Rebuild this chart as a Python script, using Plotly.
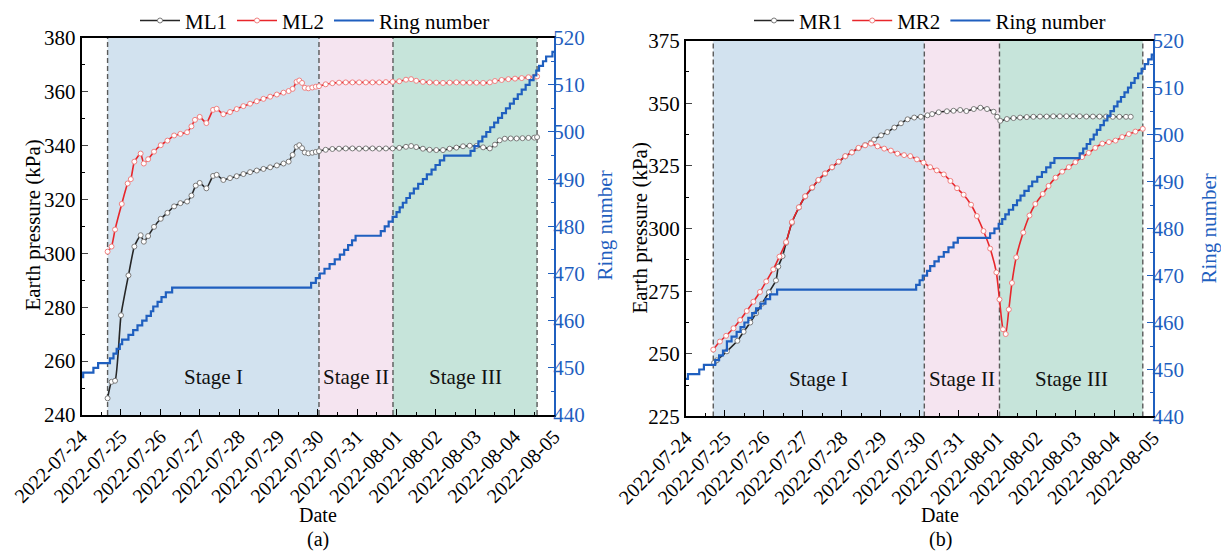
import pandas as pd
import plotly.graph_objects as go
from plotly.subplots import make_subplots

# ---------------- data (time in days from 2022-07-24 00:00) ----------------
ml1_t = [0.66, 0.76, 0.85, 1.00, 1.19, 1.34, 1.50, 1.58, 1.69, 1.84, 2.01, 2.18, 2.35, 2.51, 2.68, 2.79,
         2.90, 3.00, 3.17, 3.34, 3.43, 3.60, 3.77, 3.94, 4.11, 4.28, 4.45, 4.62, 4.79, 4.96, 5.13, 5.26,
         5.36, 5.46, 5.53, 5.60, 5.67, 5.76, 5.86, 5.95, 6.03, 6.20, 6.37, 6.54, 6.71, 6.88, 7.05, 7.22,
         7.39, 7.56, 7.73, 7.90, 8.07, 8.24, 8.37, 8.50, 8.67, 8.84, 9.01, 9.18, 9.35, 9.52, 9.69, 9.86,
         10.03, 10.20, 10.37, 10.50, 10.62, 10.75, 10.90, 11.05, 11.20, 11.35, 11.50, 11.57]
ml1_v = [246.2, 252.3, 252.7, 277.0, 291.8, 302.5, 306.7, 304.3, 306.4, 309.8, 312.8, 315.0, 317.4, 318.6, 319.2, 321.4,
         325.1, 326.1, 324.1, 328.7, 329.1, 327.2, 327.9, 328.6, 329.4, 330.1, 330.7, 331.3, 331.9, 332.6, 333.3, 334.0,
         336.5, 339.5, 340.1, 339.0, 337.4, 337.1, 337.3, 337.6, 337.9, 338.4, 338.7, 338.8, 338.9, 338.9, 338.8, 338.9,
         338.9, 338.8, 338.9, 338.9, 339.1, 339.5, 339.8, 339.4, 338.8, 338.4, 338.3, 338.3, 338.8, 339.2, 339.7, 339.9,
         339.8, 339.3, 338.9, 340.3, 341.9, 342.5, 342.6, 342.6, 342.7, 342.8, 342.9, 343.1]

ml2_t = [0.66, 0.76, 0.85, 1.02, 1.17, 1.25, 1.34, 1.50, 1.58, 1.69, 1.84, 2.01, 2.18, 2.35, 2.51, 2.68,
         2.79, 2.88, 3.00, 3.17, 3.34, 3.43, 3.60, 3.77, 3.94, 4.11, 4.28, 4.45, 4.62, 4.79, 4.96, 5.13,
         5.26, 5.36, 5.46, 5.53, 5.60, 5.67, 5.76, 5.86, 5.95, 6.03, 6.20, 6.37, 6.54, 6.71, 6.88, 7.05,
         7.22, 7.39, 7.56, 7.73, 7.90, 8.07, 8.24, 8.37, 8.50, 8.67, 8.84, 9.01, 9.18, 9.35, 9.52, 9.69,
         9.86, 10.03, 10.20, 10.37, 10.50, 10.67, 10.84, 11.01, 11.18, 11.35, 11.50, 11.57]
ml2_v = [300.6, 302.5, 308.8, 318.3, 325.9, 327.5, 334.0, 337.0, 333.3, 334.9, 337.7, 340.1, 341.8, 343.7, 344.3, 344.9,
         347.1, 349.5, 350.6, 348.3, 353.2, 353.6, 351.6, 352.4, 353.5, 354.6, 355.5, 356.4, 357.3, 358.1, 358.9, 359.6,
         360.2, 361.0, 363.6, 364.1, 363.2, 361.4, 361.2, 361.5, 361.8, 362.0, 362.7, 363.1, 363.3, 363.4, 363.4, 363.4,
         363.4, 363.4, 363.4, 363.5, 363.6, 363.8, 364.4, 364.6, 364.0, 363.6, 363.4, 363.3, 363.2, 363.3, 363.4, 363.3,
         363.3, 363.3, 363.2, 363.4, 363.9, 364.3, 364.6, 364.8, 365.0, 365.3, 365.5, 365.6]

ringL_t = [0.00, 0.04, 0.30, 0.42, 0.72, 0.81, 0.89, 0.97, 1.03, 1.19, 1.31, 1.42, 1.54, 1.65, 1.76, 1.82,
           1.93, 2.03, 2.14, 2.30, 5.83, 5.95, 6.05, 6.17, 6.30, 6.43, 6.56, 6.67, 6.77, 6.87, 6.96, 7.60,
           7.70, 7.80, 7.90, 8.00, 8.08, 8.16, 8.25, 8.34, 8.44, 8.55, 8.67, 8.77, 8.89, 8.99, 9.10, 9.21,
           9.88, 9.98, 10.08, 10.18, 10.28, 10.38, 10.48, 10.58, 10.68, 10.78, 10.88, 10.98, 11.08, 11.18,
           11.28, 11.38, 11.48, 11.55, 11.62, 11.72, 11.80, 11.96, 12.00]
ringL_v = [448, 449, 450, 451, 452, 453, 454, 455, 456, 457, 458, 459, 460, 461, 462, 463,
           464, 465, 466, 467, 468, 469, 470, 471, 472, 473, 474, 475, 476, 477, 478, 479,
           480, 481, 482, 483, 484, 485, 486, 487, 488, 489, 490, 491, 492, 493, 494, 495,
           496, 497, 498, 499, 500, 501, 502, 503, 504, 505, 506, 507, 508, 509,
           510, 511, 512, 513, 514, 515, 516, 517, 517]

mr1_t = [0.72, 0.79, 1.05, 1.32, 1.48, 1.65, 1.80, 1.95, 2.13, 2.31, 2.37, 2.48, 2.57, 2.72, 2.90, 3.06,
         3.24, 3.40, 3.57, 3.75, 3.92, 4.09, 4.26, 4.43, 4.60, 4.75, 4.83, 5.01, 5.17, 5.35, 5.52, 5.69,
         5.86, 6.03, 6.20, 6.32, 6.49, 6.70, 6.87, 7.04, 7.20, 7.39, 7.56, 7.73, 7.90, 7.99, 8.07, 8.24,
         8.41, 8.58, 8.75, 8.92, 9.09, 9.26, 9.43, 9.60, 9.77, 9.94, 10.11, 10.28, 10.45, 10.62, 10.79,
         10.96, 11.13, 11.30, 11.42]
mr1_v = [246.4, 247.4, 251.0, 255.2, 258.8, 262.5, 266.2, 270.0, 274.6, 279.3, 284.8, 289.0, 294.3, 302.3, 308.4, 312.8,
         316.3, 319.3, 321.9, 324.4, 326.6, 328.8, 330.4, 332.1, 333.3, 334.3, 335.5, 337.2, 338.5, 340.3, 342.0, 343.6,
         344.3, 344.6, 345.2, 345.7, 346.4, 346.8, 347.0, 347.3, 346.9, 347.7, 348.2, 347.7, 346.6, 344.6, 343.0, 343.7,
         344.1, 344.3, 344.5, 344.6, 344.7, 344.7, 344.8, 344.8, 344.8, 344.8, 344.8, 344.7, 344.7, 344.7, 344.7,
         344.6, 344.6, 344.6, 344.6]

mr2_t = [0.70, 0.87, 1.03, 1.22, 1.39, 1.56, 1.73, 1.90, 2.06, 2.24, 2.40, 2.57, 2.72, 2.90, 3.06, 3.24,
         3.40, 3.57, 3.75, 3.92, 4.09, 4.26, 4.43, 4.60, 4.75, 4.92, 5.09, 5.26, 5.43, 5.60, 5.76, 5.93,
         6.10, 6.27, 6.44, 6.62, 6.79, 6.96, 7.13, 7.32, 7.47, 7.64, 7.81, 7.97, 8.05, 8.14, 8.21, 8.29,
         8.37, 8.48, 8.66, 8.82, 8.97, 9.16, 9.31, 9.49, 9.66, 9.83, 10.00, 10.17, 10.34, 10.51, 10.69,
         10.86, 11.03, 11.20, 11.37, 11.54, 11.73]
mr2_v = [251.7, 254.9, 257.2, 260.2, 263.5, 267.1, 270.8, 274.7, 278.9, 283.7, 288.8, 294.6, 302.6, 308.5, 312.9, 316.4,
         319.4, 322.0, 324.5, 326.7, 328.9, 330.4, 332.2, 333.2, 333.9, 332.8, 331.9, 331.1, 329.9, 329.3, 328.9, 327.6,
         326.3, 324.5, 323.2, 321.6, 319.0, 316.1, 313.5, 309.5, 305.0, 299.0, 292.0, 282.5, 271.7, 259.8, 257.9, 267.7,
         278.3, 288.5, 298.4, 305.2, 309.8, 313.8, 317.0, 320.3, 322.7, 324.5, 326.5, 328.5, 330.2, 332.2, 333.9,
         334.5, 335.1, 336.5, 337.7, 338.7, 339.8]

ringR_t = [0.00, 0.05, 0.34, 0.46, 0.75, 0.85, 0.95, 1.05, 1.17, 1.30, 1.40, 1.50, 1.60, 1.70, 1.80, 1.92,
           2.04, 2.16, 2.34, 5.91, 6.00, 6.08, 6.19, 6.27, 6.38, 6.49, 6.62, 6.74, 6.87, 6.98, 7.81, 7.92,
           8.03, 8.12, 8.20, 8.29, 8.40, 8.50, 8.59, 8.69, 8.80, 8.89, 9.02, 9.14, 9.25, 9.36, 9.46,
           10.11, 10.20, 10.29, 10.38, 10.47, 10.55, 10.64, 10.73, 10.82, 10.90, 10.99, 11.08, 11.17, 11.26,
           11.35, 11.43, 11.52, 11.61, 11.70, 11.78, 11.87, 11.96, 12.00]
ringR_v = [448, 449, 450, 451, 452, 453, 454, 456, 457, 458, 459, 460, 461, 462, 463, 464,
           465, 466, 467, 468, 469, 470, 471, 472, 473, 474, 475, 476, 477, 478, 479, 480,
           481, 482, 483, 484, 485, 486, 487, 488, 489, 490, 491, 492, 493, 494, 495,
           496, 497, 498, 499, 500, 501, 502, 503, 504, 505, 506, 507, 508, 509,
           510, 511, 512, 513, 514, 515, 516, 517, 517]

stagesL = [0.66, 6.03, 7.91, 11.57]   # stage boundaries, left panel
stagesR = [0.70, 6.12, 8.05, 11.73]   # stage boundaries, right panel
stage_names = ["Stage I", "Stage II", "Stage III"]
stage_colors = ["rgb(210,226,239)", "rgb(245,228,240)", "rgb(198,228,218)"]

BASE = pd.Timestamp("2022-07-24")


def T(days):
    return [BASE + pd.Timedelta(days=d) for d in days]


FONT = "Times New Roman, Liberation Serif, serif"
BLACK = "#262626"
RED = "#e8262b"
BLUE = "#1f5fbf"

fig = make_subplots(rows=1, cols=2, specs=[[{"secondary_y": True}, {"secondary_y": True}]])


def add_panel(col, t1, v1, n1, t2, v2, n2, rt, rv, legend):
    fig.add_trace(go.Scatter(x=T(t1), y=v1, name=n1, mode="lines+markers", legend=legend,
                             line=dict(color=BLACK, width=1.6, shape="spline", smoothing=0.5),
                             marker=dict(symbol="circle", size=5, color="white",
                                         line=dict(color="#7a7a7a", width=1))),
                  row=1, col=col, secondary_y=False)
    fig.add_trace(go.Scatter(x=T(t2), y=v2, name=n2, mode="lines+markers", legend=legend,
                             line=dict(color=RED, width=1.6, shape="spline", smoothing=0.5),
                             marker=dict(symbol="circle", size=5, color="white",
                                         line=dict(color="#f08080", width=1))),
                  row=1, col=col, secondary_y=False)
    fig.add_trace(go.Scatter(x=T(rt), y=rv, name="Ring number", mode="lines", legend=legend,
                             line=dict(color=BLUE, width=2.2, shape="hv")),
                  row=1, col=col, secondary_y=True)


add_panel(1, ml1_t, ml1_v, "ML1", ml2_t, ml2_v, "ML2", ringL_t, ringL_v, "legend")
add_panel(2, mr1_t, mr1_v, "MR1", mr2_t, mr2_v, "MR2", ringR_t, ringR_v, "legend2")

W, H = 1221, 551
domL = [81.6 / W, 554 / W]
domR = [686 / W, 1153.3 / W]
ydomL = [1 - 413.5 / H, 1 - 32 / H]
ydomR = [1 - 415 / H, 1 - 35 / H]

xcommon = dict(type="date", range=[BASE, BASE + pd.Timedelta(days=12)], tickformat="%Y-%m-%d",
               dtick=86400000, tick0=BASE, tickangle=-45, ticks="inside", ticklen=6, tickwidth=1.3,
               tickcolor="black", showline=True, linecolor="black", linewidth=2, mirror=True,
               showgrid=False, zeroline=False, tickfont=dict(family=FONT, size=20, color="black"),
               minor=dict(dtick=43200000, ticks="inside", ticklen=3, tickcolor="black", showgrid=False),
               automargin=False)
ring_common = dict(range=[440, 520], dtick=10, ticks="inside", ticklen=6, tickwidth=1.3, tickcolor=BLUE,
                   showline=True, linecolor=BLUE, linewidth=2, showgrid=False, zeroline=False,
                   tickfont=dict(family=FONT, size=21, color=BLUE), ticklabelstandoff=-7,
                   minor=dict(dtick=5, ticks="inside", ticklen=3, tickcolor=BLUE), automargin=False)
fig.update_layout(
    xaxis=dict(domain=domL, **xcommon),
    xaxis2=dict(domain=domR, **xcommon),
    yaxis=dict(domain=ydomL, range=[240, 380], dtick=20, ticks="inside", ticklen=6, tickwidth=1.3,
               showline=True, linecolor="black", linewidth=2, showgrid=False, zeroline=False,
               tickfont=dict(family=FONT, size=21, color="black"),
               minor=dict(dtick=10, ticks="inside", ticklen=3, tickcolor="black"), automargin=False),
    yaxis2=dict(**ring_common),
    yaxis3=dict(domain=ydomR, range=[225, 375], dtick=25, ticks="inside", ticklen=6, tickwidth=1.3,
                showline=True, linecolor="black", linewidth=2, showgrid=False, zeroline=False,
                tickfont=dict(family=FONT, size=21, color="black"),
                minor=dict(dtick=12.5, ticks="inside", ticklen=3, tickcolor="black"), automargin=False),
    yaxis4=dict(**ring_common),
)
fig.layout.yaxis2.domain = ydomL
fig.layout.yaxis4.domain = ydomR

# stage shading & dashed boundaries
for xref, stages in (("x", stagesL), ("x2", stagesR)):
    yref = "y domain" if xref == "x" else "y3 domain"
    for i in range(3):
        fig.add_shape(type="rect", xref=xref, yref=yref, x0=BASE + pd.Timedelta(days=stages[i]),
                      x1=BASE + pd.Timedelta(days=stages[i + 1]), y0=0, y1=1,
                      fillcolor=stage_colors[i], line=dict(width=0), layer="below")
    for s in stages:
        fig.add_shape(type="line", xref=xref, yref=yref, x0=BASE + pd.Timedelta(days=s),
                      x1=BASE + pd.Timedelta(days=s), y0=0, y1=1,
                      line=dict(color="#5a5a5a", width=1.4, dash="5px,3px"), layer="below")
    for i, name in enumerate(stage_names):
        mid = (stages[i] + stages[i + 1]) / 2
        fig.add_annotation(x=BASE + pd.Timedelta(days=mid), y=0.10, xref=xref, yref=yref,
                           text=name, showarrow=False, xanchor="center", yanchor="middle",
                           font=dict(family=FONT, size=21, color="#111"))

ann = [
    (33, 222, "Earth pressure (kPa)", -90, "black", 21),
    (605, 222, "Ring number", -90, BLUE, 21),
    (640, 225, "Earth pressure (kPa)", -90, "black", 21),
    (1209, 225, "Ring number", -90, BLUE, 21),
    (318, 515, "Date", 0, "black", 20),
    (318, 539, "(a)", 0, "black", 20),
    (940, 515, "Date", 0, "black", 20),
    (940, 539, "(b)", 0, "black", 20),
]
for px, py, txt, ang, col, fs in ann:
    fig.add_annotation(x=px / W, y=1 - py / H, xref="paper", yref="paper", text=txt, textangle=ang,
                       showarrow=False, xanchor="center", yanchor="middle",
                       font=dict(family=FONT, size=fs, color=col))

leg = dict(orientation="h", xanchor="center", yanchor="middle", bgcolor="rgba(0,0,0,0)",
           font=dict(family=FONT, size=21, color="black"), itemwidth=40, tracegroupgap=0)
fig.update_layout(
    width=W, height=H, margin=dict(l=0, r=0, t=0, b=0),
    paper_bgcolor="white", plot_bgcolor="white", showlegend=True,
    legend=dict(x=315 / W, y=1 - 15 / H, **leg),
    legend2=dict(x=930 / W, y=1 - 15 / H, **leg),
)

fig.write_html("out.html", config={"displayModeBar": False},
               post_script="document.body.style.margin='0';document.body.style.overflow='hidden';")
